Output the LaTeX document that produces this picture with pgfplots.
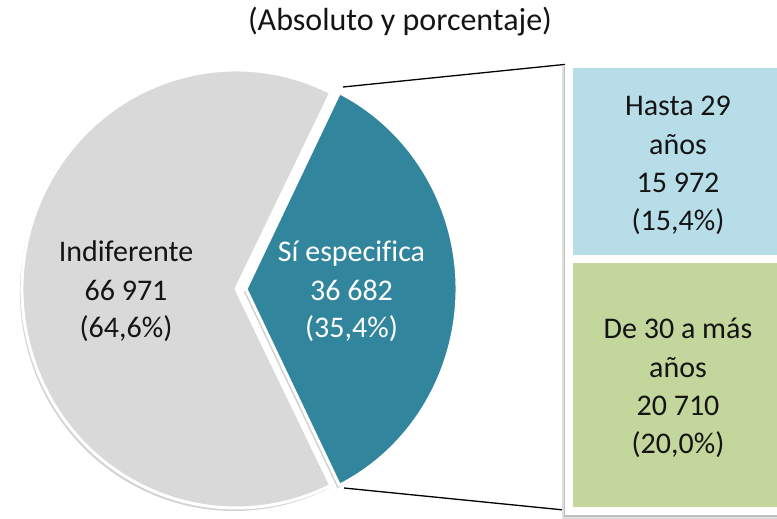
\documentclass[border=0pt]{standalone}
\usepackage{pgfplots}
\pgfplotsset{compat=1.18}
\usepackage{fontspec}
\setmainfont{Carlito}[Ligatures=CommonOff]
\definecolor{graycol}{HTML}{D9D9D9}
\definecolor{tealcol}{HTML}{31859C}
\definecolor{bluecol}{HTML}{B7DEE8}
\definecolor{greencol}{HTML}{C3D69B}
\definecolor{txt}{HTML}{141414}
% data
\def\vIndif{66971}
\def\vSi{36682}
\def\vJov{15972}
\def\vMay{20710}
\edef\half{\fpeval{180*\vSi/(\vIndif+\vSi)}}
\edef\gEnd{\fpeval{360-\half}}
\edef\tStart{\fpeval{-\half}}
\begin{document}
\begin{tikzpicture}
\tikzset{lab/.style={anchor=base, font=\fontsize{30}{36}\selectfont, text=txt, inner sep=0pt}}
\begin{axis}[name=canvas, scale only axis, width=777pt, height=519pt,
  xmin=0, xmax=777, ymin=0, ymax=519, y dir=reverse, hide axis, clip=false]
  % shadows
  \fill[gray!35, xshift=-2pt, yshift=-3pt] (axis cs:236,289) -- ++(\half:214pt and 219pt)
     arc[start angle=\half, end angle=\gEnd, x radius=214pt, y radius=219pt] -- cycle;
  \fill[gray!35, xshift=-2pt, yshift=-3pt] (axis cs:246,289) -- ++(\tStart:211pt and 219pt)
     arc[start angle=\tStart, end angle=\half, x radius=211pt, y radius=219pt] -- cycle;
  % pie slices
  \filldraw[fill=graycol, draw=white, line width=3pt, line join=round] (axis cs:236,289) -- ++(\half:214pt and 219pt)
     arc[start angle=\half, end angle=\gEnd, x radius=214pt, y radius=219pt] -- cycle;
  \filldraw[fill=tealcol, draw=white, line width=3pt, line join=round] (axis cs:246,289) -- ++(\tStart:211pt and 219pt)
     arc[start angle=\tStart, end angle=\half, x radius=211pt, y radius=219pt] -- cycle;
  % connectors
  \draw[black, line width=1.3pt] (axis cs:343,87) -- (axis cs:569,64);
  \draw[black, line width=1.3pt] (axis cs:344,488) -- (axis cs:569,510.5);
  % frame shadow
  \fill[gray!25] (axis cs:562,66) rectangle (axis cs:800,518.5);
  \fill[gray!50] (axis cs:563.5,67) rectangle (axis cs:800,516.5);
  % title
  \node[lab, font=\fontsize{32}{38}\selectfont] at (axis cs:400,31) {(Absoluto y porcentaje)};
  % pie labels
  \node[lab] at (axis cs:126,261.7) {Indiferente};
  \node[lab] at (axis cs:126,300) {66 971};
  \node[lab] at (axis cs:126,337.5) {(64,6\%)};
  \node[lab, text=white] at (axis cs:351.5,261.7) {Sí especifica};
  \node[lab, text=white] at (axis cs:351.5,300) {36 682};
  \node[lab, text=white] at (axis cs:351.5,337.5) {(35,4\%)};
\end{axis}
\begin{axis}[at={(569pt,8pt)}, anchor=south west, scale only axis,
  width=231pt, height=447pt, xmin=0, xmax=1, ymin=0, ymax=36682,
  enlargelimits=false, hide axis, clip=false, ybar stacked, bar width=1]
  \addplot[fill=greencol, draw=white, line width=8pt] coordinates {(0.5,20710)};
  \addplot[fill=bluecol, draw=white, line width=8pt] coordinates {(0.5,15972)};
\end{axis}
\begin{axis}[scale only axis, width=777pt, height=519pt,
  xmin=0, xmax=777, ymin=0, ymax=519, y dir=reverse, hide axis, clip=false]
  \node[lab] at (axis cs:678,116) {Hasta 29};
  \node[lab] at (axis cs:678,154) {años};
  \node[lab] at (axis cs:678,192) {15 972};
  \node[lab] at (axis cs:678,230) {(15,4\%)};
  \node[lab] at (axis cs:678,338.5) {De 30 a más};
  \node[lab] at (axis cs:678,377) {años};
  \node[lab] at (axis cs:678,415) {20 710};
  \node[lab] at (axis cs:678,453.5) {(20,0\%)};
\end{axis}
\pgfresetboundingbox
\useasboundingbox (0,0) rectangle (777pt,519pt);
\end{tikzpicture}
\end{document}
